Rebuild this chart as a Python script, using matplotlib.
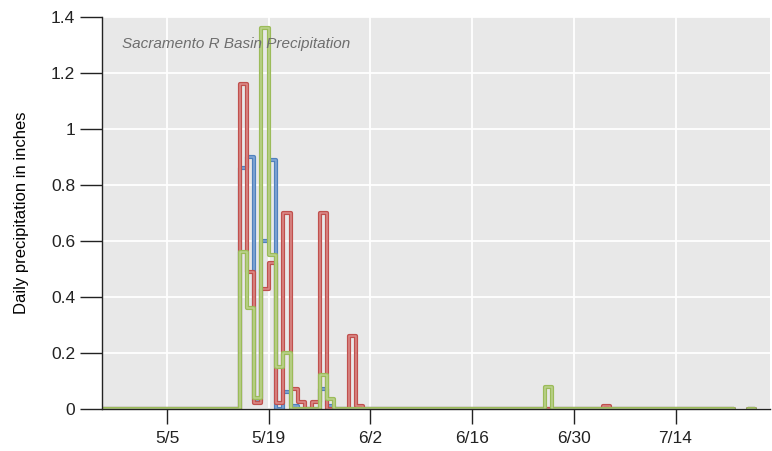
import numpy as np
import pandas as pd
import matplotlib
matplotlib.use('Agg')
import matplotlib.pyplot as plt

# Datos: precipitación diaria (pulgadas) en tres estaciones
start_date = '2016-04-26'
end_date = '2016-07-25'

storm_start = '2016-05-15'
blue_storm = [0.86, 0.90, 0.03, 0.60, 0.89, 0.00, 0.06, 0.01, 0.00, 0.00, 0.00, 0.07, 0.01, 0.00, 0.00, 0.00, 0.00]
red_storm = [1.16, 0.49, 0.02, 0.43, 0.52, 0.02, 0.70, 0.07, 0.025, 0.00, 0.025, 0.70, 0.00, 0.00, 0.00, 0.26, 0.01]
green_storm = [0.56, 0.36, 0.04, 1.36, 0.55, 0.15, 0.20, 0.00, 0.00, 0.00, 0.00, 0.12, 0.035, 0.00, 0.00, 0.00, 0.00]

# Lluvias aisladas después de la tormenta
red_extra = {'2016-07-04': 0.01}
green_extra = {'2016-06-26': 0.08}

# Días sin datos
missing_days = ['2016-07-22', '2016-07-23', '2016-07-25']

tick_dates = ['2016-05-05', '2016-05-19', '2016-06-02', '2016-06-16', '2016-06-30', '2016-07-14']
tick_labels = ['5/5', '5/19', '6/2', '6/16', '6/30', '7/14']
y_ticks = [0, 0.2, 0.4, 0.6, 0.8, 1.0, 1.2, 1.4]
y_labels = ['0', '0.2', '0.4', '0.6', '0.8', '1', '1.2', '1.4']

dates = pd.date_range(start_date, end_date, freq='D')


def build_series(storm, extra):
    s = pd.Series(0.0, index=dates)
    storm_idx = pd.date_range(storm_start, periods=len(storm), freq='D')
    s[storm_idx] = storm
    for d, v in extra.items():
        s[pd.Timestamp(d)] = v
    s[pd.to_datetime(missing_days)] = np.nan
    return s


series = [
    (build_series(blue_storm, {}), '#4f81bd', '#86a9d6'),
    (build_series(red_storm, red_extra), '#c0504d', '#dc8c8a'),
    (build_series(green_storm, green_extra), '#9bbb59', '#bcd38e'),
]

plt.rcParams['font.family'] = ['Liberation Sans', 'DejaVu Sans']

fig = plt.figure(figsize=(7.72, 4.51), dpi=100)
ax = fig.add_axes([0.1317, 0.0931, 0.8657, 0.8699])
ax.set_facecolor('#e8e8e8')

for s, c_out, c_in in series:
    ax.step(s.index, s.values, where='post', color=c_out, lw=3.0,
            solid_joinstyle='round', solid_capstyle='round', zorder=2)
    ax.step(s.index, s.values, where='post', color=c_in, lw=1.1,
            solid_joinstyle='round', zorder=2)

ax.set_xlim(pd.Timestamp('2016-04-26'), pd.Timestamp('2016-07-27'))
ax.set_ylim(0, 1.4)

ax.set_xticks(pd.to_datetime(tick_dates))
ax.set_xticklabels(tick_labels)
ax.set_yticks(y_ticks)
ax.set_yticklabels(y_labels)

ax.grid(True, color='white', lw=1.3)
ax.set_axisbelow(True)

for side in ['top', 'right']:
    ax.spines[side].set_visible(False)
for side in ['left', 'bottom']:
    ax.spines[side].set_color('#222222')
    ax.spines[side].set_linewidth(1.0)

ax.tick_params(axis='y', length=16, width=1, pad=3, labelsize=12.5, colors='#222222')
ax.tick_params(axis='x', length=11, width=1, pad=5, labelsize=12.5, colors='#222222')

ax.set_ylabel('Daily precipitation in inches', fontsize=12, labelpad=16)

ax.text(0.030, 0.931, 'Sacramento R Basin Precipitation', transform=ax.transAxes,
        fontsize=11, style='italic', color='#6e6e6e', va='center', ha='left')

fig.savefig('out.png', dpi=100)
